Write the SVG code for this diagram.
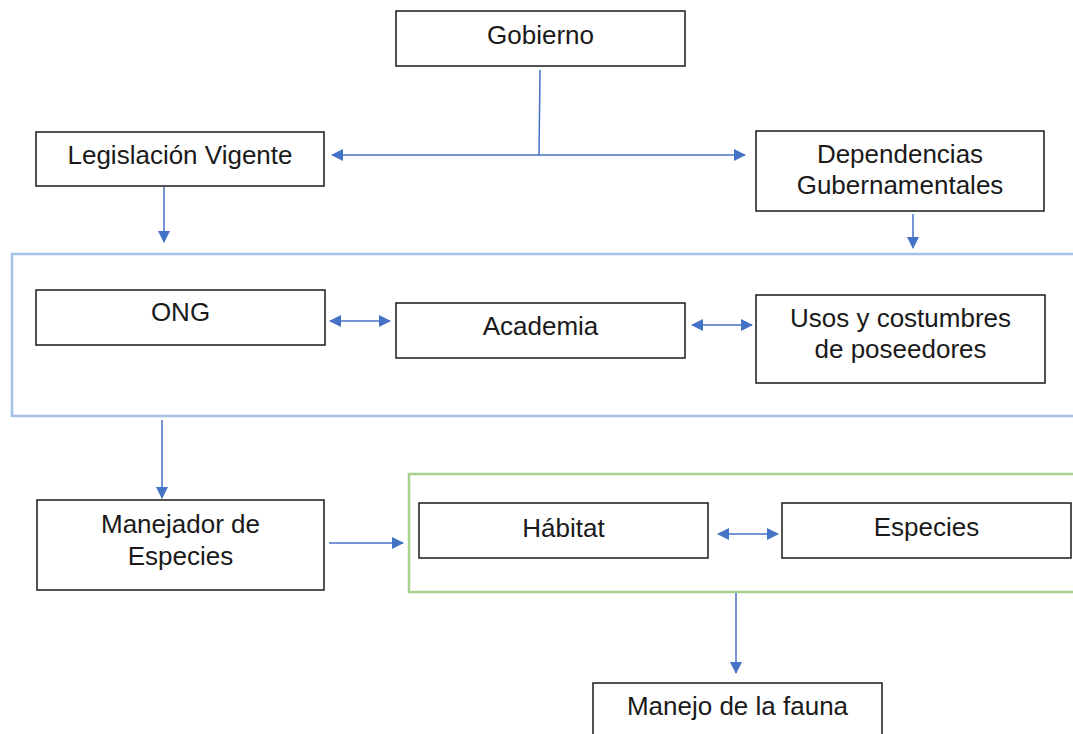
<svg xmlns="http://www.w3.org/2000/svg" width="1073" height="734" viewBox="0 0 1073 734">
<style>
.box{fill:#fff;stroke:#1a1a1a;stroke-width:1.5}
.t{font-family:"Liberation Sans",Arial,sans-serif;font-size:26px;fill:#1a1a1a;text-anchor:middle}
.c{stroke:#4472c4;stroke-width:1.5;fill:none}
.grp-blue{fill:none;stroke:#a4c2e8;stroke-width:2.5}
.grp-green{fill:none;stroke:#a9d18e;stroke-width:2.5}
</style>
<defs>
<marker id="ah" viewBox="0 0 12 12" refX="11" refY="6" markerWidth="12" markerHeight="12" markerUnits="userSpaceOnUse" orient="auto-start-reverse">
<path d="M0,0 L12,6 L0,12 Z" fill="#4472c4"/>
</marker>
</defs>
<rect id="group-blue" class="grp-blue" x="12" y="254" width="1075" height="162"/>
<rect id="group-green" class="grp-green" x="409" y="474" width="680" height="118"/>
<g id="connectors">
<line class="c" x1="540" y1="70" x2="539" y2="155"/>
<line class="c" x1="539" y1="155" x2="332" y2="155" marker-end="url(#ah)"/>
<line class="c" x1="539" y1="155" x2="745" y2="155" marker-end="url(#ah)"/>
<line class="c" x1="164" y1="187" x2="164" y2="242" marker-end="url(#ah)"/>
<line class="c" x1="913" y1="214" x2="913" y2="248" marker-end="url(#ah)"/>
<line class="c" x1="330" y1="321" x2="390" y2="321" marker-start="url(#ah)" marker-end="url(#ah)"/>
<line class="c" x1="692" y1="325" x2="752" y2="325" marker-start="url(#ah)" marker-end="url(#ah)"/>
<line class="c" x1="162" y1="420" x2="162" y2="498" marker-end="url(#ah)"/>
<line class="c" x1="329" y1="543" x2="403" y2="543" marker-end="url(#ah)"/>
<line class="c" x1="718" y1="534" x2="778" y2="534" marker-start="url(#ah)" marker-end="url(#ah)"/>
<line class="c" x1="736" y1="593" x2="736" y2="673" marker-end="url(#ah)"/>
</g>
<g id="gobierno"><rect class="box" x="396" y="11" width="289" height="55"/><text class="t" x="540.5" y="44">Gobierno</text></g>
<g id="legislacion"><rect class="box" x="36" y="132" width="288" height="54"/><text class="t" x="180" y="164">Legislación Vigente</text></g>
<g id="dependencias"><rect class="box" x="756" y="131" width="288" height="80"/><text class="t" x="900" y="163">Dependencias</text><text class="t" x="900" y="194">Gubernamentales</text></g>
<g id="ong"><rect class="box" x="36" y="290" width="289" height="55"/><text class="t" x="180.5" y="321">ONG</text></g>
<g id="academia"><rect class="box" x="396" y="303" width="289" height="55"/><text class="t" x="540.5" y="335">Academia</text></g>
<g id="usos"><rect class="box" x="756" y="295" width="289" height="88"/><text class="t" x="900.5" y="327">Usos y costumbres</text><text class="t" x="900.5" y="358">de poseedores</text></g>
<g id="manejador"><rect class="box" x="37" y="500" width="287" height="90"/><text class="t" x="180.5" y="533">Manejador de</text><text class="t" x="180.5" y="565">Especies</text></g>
<g id="habitat"><rect class="box" x="419" y="503" width="289" height="55"/><text class="t" x="563.5" y="537">Hábitat</text></g>
<g id="especies"><rect class="box" x="782" y="503" width="289" height="55"/><text class="t" x="926.5" y="536">Especies</text></g>
<g id="manejo"><rect class="box" x="593" y="683" width="289" height="60"/><text class="t" x="737.5" y="715">Manejo de la fauna</text></g>
</svg>
